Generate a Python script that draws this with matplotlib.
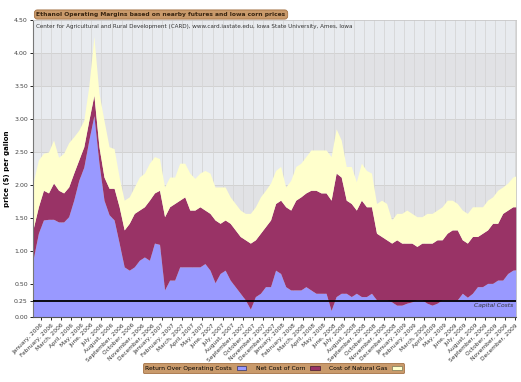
import matplotlib.pyplot as plt
import numpy as np
from matplotlib.patches import Patch

month_names = ["January", "February", "March", "April", "May", "June", "July",
               "August", "September", "October", "November", "December"]
years = [2006, 2007, 2008, 2009]
tick_labels = [f"{m}, {y}" for y in years for m in month_names]

# half-month samples, first one in early December 2005 ($ per gallon)
return_top = [0.89, 1.27, 1.47, 1.48, 1.48, 1.44, 1.44, 1.52, 1.77, 2.07,
              2.27, 2.68, 3.05, 2.33, 1.77, 1.55, 1.47, 1.12, 0.76, 0.71,
              0.76, 0.86, 0.91, 0.86, 1.12, 1.10, 0.41, 0.56, 0.56, 0.76,
              0.76, 0.76, 0.76, 0.76, 0.81, 0.71, 0.52, 0.66, 0.71, 0.56,
              0.46, 0.36, 0.26, 0.12, 0.31, 0.36, 0.46, 0.46, 0.71, 0.66,
              0.46, 0.41, 0.41, 0.41, 0.46, 0.41, 0.36, 0.36, 0.36, 0.10,
              0.31, 0.36, 0.36, 0.31, 0.36, 0.31, 0.31, 0.36, 0.26, 0.26,
              0.26, 0.23, 0.18, 0.18, 0.21, 0.23, 0.26, 0.26, 0.21, 0.18,
              0.21, 0.26, 0.26, 0.26, 0.26, 0.36, 0.30, 0.36, 0.46, 0.46,
              0.51, 0.51, 0.56, 0.56, 0.66, 0.71, 0.72]
corn_top = [1.35, 1.67, 1.92, 1.88, 2.03, 1.92, 1.88, 1.97, 2.18, 2.38,
            2.58, 2.98, 3.36, 2.58, 2.12, 1.95, 1.95, 1.67, 1.32, 1.42,
            1.57, 1.62, 1.67, 1.77, 1.88, 1.92, 1.52, 1.67, 1.72, 1.77,
            1.82, 1.62, 1.62, 1.67, 1.62, 1.57, 1.47, 1.42, 1.47, 1.42,
            1.32, 1.22, 1.17, 1.12, 1.17, 1.27, 1.37, 1.47, 1.72, 1.77,
            1.67, 1.62, 1.77, 1.82, 1.88, 1.92, 1.92, 1.88, 1.88, 1.77,
            2.18, 2.12, 1.77, 1.72, 1.62, 1.77, 1.67, 1.67, 1.27, 1.22,
            1.17, 1.12, 1.17, 1.12, 1.12, 1.12, 1.07, 1.12, 1.12, 1.12,
            1.17, 1.17, 1.27, 1.32, 1.32, 1.17, 1.12, 1.22, 1.22, 1.27,
            1.32, 1.42, 1.42, 1.57, 1.62, 1.67, 1.67]
gas_top = [2.05, 2.38, 2.48, 2.50, 2.68, 2.42, 2.48, 2.64, 2.73, 2.83,
           2.98, 3.50, 4.25, 3.39, 2.98, 2.58, 2.55, 2.12, 1.77, 1.82,
           1.97, 2.12, 2.18, 2.33, 2.43, 2.40, 1.97, 2.12, 2.12, 2.33,
           2.33, 2.18, 2.10, 2.18, 2.22, 2.18, 1.97, 1.97, 1.97, 1.82,
           1.72, 1.62, 1.57, 1.57, 1.67, 1.82, 1.92, 2.03, 2.22, 2.28,
           1.97, 2.07, 2.28, 2.33, 2.43, 2.53, 2.53, 2.53, 2.53, 2.43,
           2.85, 2.68, 2.28, 2.28, 2.05, 2.33, 2.22, 2.18, 1.72, 1.77,
           1.72, 1.47, 1.57, 1.57, 1.62, 1.57, 1.52, 1.52, 1.57, 1.57,
           1.62, 1.67, 1.77, 1.77, 1.72, 1.62, 1.57, 1.67, 1.67, 1.67,
           1.77, 1.82, 1.92, 1.97, 2.03, 2.12, 2.15]
capital_costs = 0.25

c_blue = "#9999ff"
c_corn = "#993366"
c_gas = "#ffffcc"
c_tan = "#c99a6b"

x = np.arange(len(return_top)) * 0.5 - 0.75

fig = plt.figure(figsize=(5.21, 3.82), dpi=100)
ax = fig.add_axes([0.064, 0.170, 0.927, 0.778])

# alternating background bands
for lo in np.arange(0, 4.5, 0.5):
    shade = "#e1e2e5" if int(round(lo * 2)) % 2 == 1 else "#e8ebef"
    ax.axhspan(lo, lo + 0.5, color=shade, zorder=0, lw=0)

ax.fill_between(x, 0, return_top, color=c_blue, lw=0, zorder=2)
ax.fill_between(x, return_top, corn_top, color=c_corn, lw=0, zorder=2)
ax.fill_between(x, corn_top, gas_top, color=c_gas, lw=0, zorder=2)

ax.axhline(capital_costs, color="black", lw=1.3, zorder=3)
ax.text(46.8, capital_costs - 0.04, "Capital Costs", ha="right", va="top",
        fontsize=4.3, style="italic", color="#333333", zorder=4)

ax.set_xlim(-0.75, 47.1)
ax.set_ylim(0, 4.5)
ax.set_yticks([0, 0.25, 0.5, 1.0, 1.5, 2.0, 2.5, 3.0, 3.5, 4.0, 4.5])
ax.set_yticklabels([f"{v:.2f}" for v in ax.get_yticks()], fontsize=4.5, color="#444444")
ax.set_xticks(range(len(tick_labels)))
ax.set_xticklabels(tick_labels, rotation=45, ha="right", rotation_mode="anchor",
                   fontsize=4.2, color="#333333")
ax.tick_params(axis="both", length=2.5, width=0.6, pad=1.5)

ax.set_axisbelow(True)
for v in np.arange(0.5, 4.5, 0.5):
    ax.axhline(v, color="#d2d2d2", lw=0.7, zorder=1)
for m in range(len(tick_labels)):
    ax.axvline(m, color="#d6d6d6", lw=0.6, zorder=1)

for side in ["top", "right"]:
    ax.spines[side].set_color("#c8c8c8")
    ax.spines[side].set_linewidth(0.6)
ax.spines["left"].set_color("#777777")
ax.spines["bottom"].set_color("#555555")

ax.set_ylabel("price ($) per gallon", fontsize=5, fontweight="bold", labelpad=3)

ax.text(0.005, 0.985, "Center for Agricultural and Rural Development (CARD), "
        "www.card.iastate.edu, Iowa State University, Ames, Iowa",
        transform=ax.transAxes, ha="left", va="top", fontsize=4.1,
        color="#333333", zorder=5)

fig.text(0.07, 0.962, "Ethanol Operating Margins based on nearby futures and Iowa corn prices",
         ha="left", va="center", fontsize=4.3, fontweight="bold", color="#3a2510",
         bbox=dict(boxstyle="round,pad=0.35,rounding_size=0.5", fc=c_tan,
                   ec="#a47245", lw=0.6))

handles = [Patch(fc=c_blue, ec="#333366", lw=0.5),
           Patch(fc=c_corn, ec="#441a30", lw=0.5),
           Patch(fc=c_gas, ec="#777755", lw=0.5)]
labels = ["Return Over Operating Costs", "Net Cost of Corn", "Cost of Natural Gas"]
leg = fig.legend(handles, labels, loc="center", bbox_to_anchor=(0.525, 0.036),
                 ncol=3, markerfirst=False, fontsize=4.3, frameon=True,
                 fancybox=True, handlelength=1.6, handleheight=0.8,
                 columnspacing=1.6, handletextpad=0.8, borderpad=0.35)
leg.get_frame().set_facecolor(c_tan)
leg.get_frame().set_edgecolor("#a47245")
leg.get_frame().set_linewidth(0.6)
leg.get_frame().set_alpha(1)

fig.savefig("out.png", dpi=100)
